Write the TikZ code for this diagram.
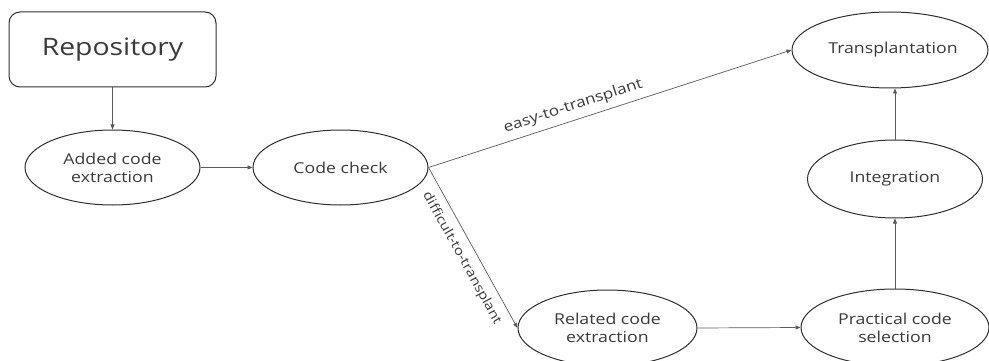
\documentclass[tikz,border=0pt]{standalone}
\usepackage{fontspec}
\setmainfont[FakeStretch=1.18]{Open Sans}
\usetikzlibrary{shapes.geometric,arrows.meta}
\definecolor{txt}{HTML}{3A3A3A}
\definecolor{edge}{HTML}{5A5A5A}
\definecolor{bord}{HTML}{2E2E2E}
\tikzset{
  proc/.style={ellipse, draw=bord, line width=1pt, inner sep=0pt, text=txt,
    font=\fontsize{15}{18}\selectfont, align=center},
  repobox/.style={rectangle, rounded corners=11pt, draw=bord, line width=1pt, text=txt,
    font=\fontsize{24}{28}\selectfont, minimum width=207pt, minimum height=75pt},
  conn/.style={draw=edge, line width=0.7pt, -{Triangle[length=5pt,width=4pt]}},
  lbl/.style={text=txt, font=\fontsize{14.5}{17}\selectfont, sloped, inner sep=2pt}
}
\begin{document}
\begin{tikzpicture}[x=1pt,y=-1pt]
\useasboundingbox (0,0) rectangle (989,361);
\node[repobox] (repo) at (112.5,49.5) {Repository};
\node[proc, minimum width=175pt, minimum height=75pt] (added) at (112.5,167.5) {Added code\\extraction};
\node[proc, minimum width=175pt, minimum height=75pt] (check) at (340.5,167.5) {Code check};
\node[proc, minimum width=196pt, minimum height=76pt] (trans) at (890,50) {\hspace*{6pt}Transplantation};
\node[proc, minimum width=175pt, minimum height=78pt] (integ) at (895,179) {Integration};
\node[proc, minimum width=179pt, minimum height=76pt] (related) at (607.5,328) {Related code\\extraction};
\node[proc, minimum width=188pt, minimum height=77pt] (practical) at (895,327.5) {Practical code\\selection};

\draw[conn] (repo.south) -- (added.north);
\draw[conn] (added.east) -- (check.west);
\draw[conn] (check.east) -- node[lbl, pos=0.41, above=4pt] {easy-to-transplant} (trans.west);
\draw[conn] (check.east) -- node[lbl, pos=0.52, below=6pt, font=\fontsize{12.8}{15}\selectfont] {difficult-to-transplant} (related.west);
\draw[conn] (related.east) -- (practical.west);
\draw[conn] (practical.north) -- (integ.south);
\draw[conn] (integ.north) -- (integ.north |- trans.south);
\end{tikzpicture}
\end{document}
